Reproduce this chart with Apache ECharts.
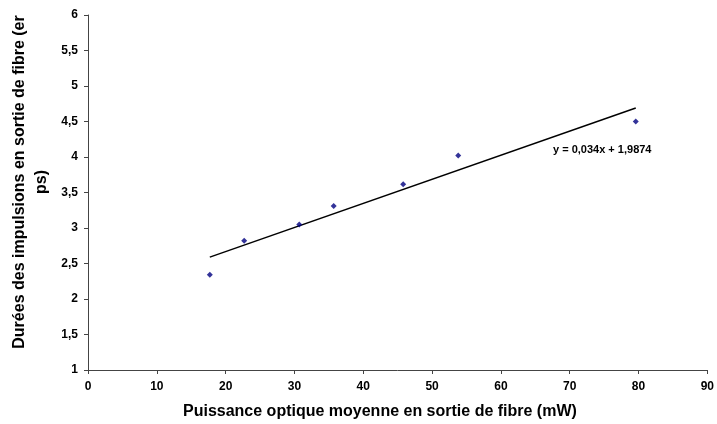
<!DOCTYPE html>
<html>
<head>
<meta charset="utf-8">
<script src="https://cdn.jsdelivr.net/npm/echarts@6/dist/echarts.min.js"></script>
<style>
html,body{margin:0;padding:0;background:#fff;}
#c{width:717px;height:424px;}
</style>
</head>
<body>
<div id="c"></div>
<script>
var pointX = [17.7, 22.7, 30.7, 35.7, 45.8, 53.8, 79.6];
var pointY = [2.34, 2.82, 3.05, 3.31, 3.615, 4.02, 4.50];
var trendX = [17.7, 79.6];
var trendY = [2.59, 4.69];
var equationText = 'y = 0,034x + 1,9874';
var xTitle = 'Puissance optique moyenne en sortie de fibre (mW)';
var yTitle = 'Durées des impulsions en sortie de fibre (er\nps)';

var chart = echarts.init(document.getElementById('c'), null, {renderer: 'canvas'});
var font = 'Liberation Sans, Arial, sans-serif';
var pts = pointX.map(function (x, i) { return [x, pointY[i]]; });
var trend = trendX.map(function (x, i) { return [x, trendY[i]]; });

chart.setOption({
  animation: false,
  backgroundColor: '#ffffff',
  grid: {left: 88, right: 5, top: 15, bottom: 54},
  xAxis: {
    type: 'value', min: 0, max: 90, interval: 10,
    axisLine: {show: true, onZero: false, lineStyle: {color: '#444', width: 1}},
    axisTick: {show: true, length: 4, inside: false, lineStyle: {color: '#444'}},
    splitLine: {show: false},
    axisLabel: {color: '#000', fontFamily: font, fontWeight: 'bold', fontSize: 12, margin: 11}
  },
  yAxis: {
    type: 'value', min: 1, max: 6, interval: 0.5,
    axisLine: {show: true, onZero: false, lineStyle: {color: '#444', width: 1}},
    axisTick: {show: true, length: 4, inside: false, lineStyle: {color: '#444'}},
    splitLine: {show: false},
    axisLabel: {
      color: '#000', fontFamily: font, fontWeight: 'bold', fontSize: 12, margin: 10,
      formatter: function (v) { return String(v).replace('.', ','); }
    }
  },
  series: [
    {
      type: 'line', data: trend, symbol: 'none',
      lineStyle: {color: '#000', width: 1.5}, z: 2
    },
    {
      type: 'scatter', data: pts, symbol: 'diamond', symbolSize: 6,
      itemStyle: {color: '#000080'}, z: 3
    }
  ],
  graphic: [
    {
      type: 'text', left: 553, top: 144,
      style: {text: equationText, font: 'bold 11px ' + font, fill: '#000'}
    },
    {
      type: 'text', x: 183, y: 412,
      style: {text: xTitle, font: 'bold 16px ' + font, fill: '#000', verticalAlign: 'middle', align: 'left'}
    },
    {
      type: 'text', x: 31, y: 182, rotation: Math.PI / 2,
      style: {text: yTitle, font: 'bold 16px ' + font, fill: '#000', align: 'center', verticalAlign: 'middle', lineHeight: 22}
    }
  ]
});
</script>
</body>
</html>
